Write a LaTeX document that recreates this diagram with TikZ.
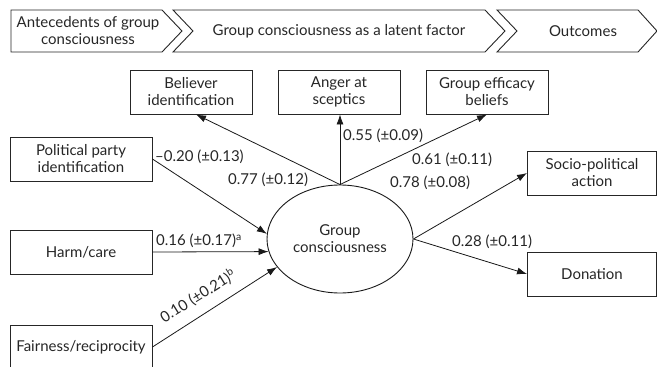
\documentclass[tikz,border=0pt]{standalone}
\usepackage{fontspec}
\setmainfont{Lato}
\usetikzlibrary{shapes,arrows.meta}

\begin{document}
\begin{tikzpicture}[x=1pt, y=1pt,
  font=\fontsize{15}{17}\selectfont,
  every node/.style={text=black!85},
  band/.style={draw=black!85, line width=0.9pt},
  box/.style={draw=black!85, line width=0.9pt, minimum width=122pt, minimum height=44pt, align=center, inner sep=0pt},
  wide/.style={box, minimum width=142pt},
  link/.style={draw=black!90, line width=0.8pt, -{Latex[length=10pt,width=7pt]}},
  lbl/.style={anchor=west, inner sep=0pt}]
\useasboundingbox (0,0) rectangle (657,-367);

% header
\draw[band] (11,-10) -- (162,-10) -- (182,-31) -- (162,-52) -- (11,-52) -- cycle;
\draw[band] (173,-10) -- (485,-10) -- (505,-31) -- (485,-52) -- (173,-52) -- (193,-31) -- cycle;
\draw[band] (497,-10) -- (638,-10) -- (657,-31) -- (638,-52) -- (497,-52) -- (517,-31) -- cycle;
\node[align=center, inner sep=0pt] (ante) at (88,-31) {Antecedents of group\\consciousness};
\node (latent) at (339,-31) {Group consciousness as a latent factor};
\node (outc) at (583,-31) {Outcomes};

% latent factor
\node[draw=black!90, line width=0.9pt, ellipse, minimum width=146pt, minimum height=108pt, align=center, inner sep=0pt] (gc) at (340,-239) {Group\\consciousness};

\node[box] (believer) at (191,-92) {Believer\\identification};
\node[box] (anger) at (339,-92) {Anger at\\sceptics};
\node[box] (efficacy) at (487,-92) {Group efficacy\\beliefs};

\node[wide] (party) at (81,-159) {Political party\\identification};
\node[wide] (harm) at (81,-252) {Harm/care};
\node[wide] (fair) at (81,-347) {Fairness/reciprocity};

\node[box, minimum width=129pt] (socio) at (592,-173) {Socio-political\\action};
\node[box, minimum width=129pt] (donation) at (592,-274) {Donation};

% paths
\draw[link] (party.east) -- (gc.176);
\draw[link] (harm.east) -- (gc.190);
\draw[link] (fair.east) -- (gc.204);
\draw[link] (gc.north) -- ([xshift=5pt]believer.south);
\draw[link] (gc.north) -- (gc.north |- anger.south);
\draw[link] (gc.north) -- (efficacy.south);
\draw[link] (gc.east) -- (socio.west);
\draw[link] (gc.east) -- (donation.west);

\node[lbl] (w020) at (155,-157) {–0.20 (±0.13)};
\node[lbl] (w077) at (228,-180) {0.77 (±0.12)};
\node[lbl] (w055) at (343,-136) {0.55 (±0.09)};
\node[lbl] (w061) at (412,-160) {0.61 (±0.11)};
\node[lbl] (w078) at (390,-183) {0.78 (±0.08)};
\node[lbl] (w016) at (156,-241) {0.16 (±0.17)\textsuperscript{a}};
\node[inner sep=0pt, rotate=32] (w010) at (198,-296) {0.10 (±0.21)\textsuperscript{b}};
\node[lbl] (w028) at (452,-242) {0.28 (±0.11)};
\end{tikzpicture}
\end{document}
